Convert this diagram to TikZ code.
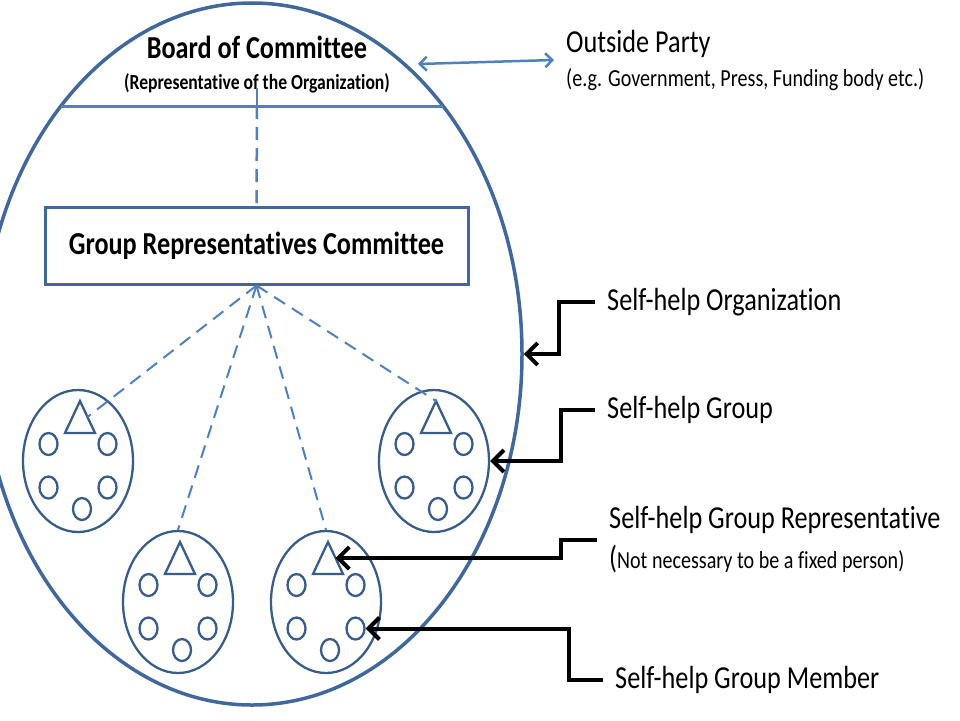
\documentclass[tikz,border=0pt]{standalone}
\usepackage{fontspec}
\setmainfont{Carlito}[FakeStretch=0.82, Ligatures=NoCommon]
\usetikzlibrary{shapes.geometric,arrows.meta}
\definecolor{orgblue}{HTML}{41689C}
\definecolor{liteblue}{HTML}{4F81BD}
\definecolor{grpblue}{HTML}{385D8A}
\begin{document}
\begin{tikzpicture}[x=1pt, y=-1pt, font=\fontsize{32}{40}\selectfont,
  org/.style={draw=orgblue, line width=3.5pt, ellipse, minimum width=540pt, minimum height=702pt, inner sep=0pt},
  grp/.style={draw=grpblue, line width=2.3pt, ellipse, minimum width=110pt, minimum height=142pt, inner sep=0pt},
  mem/.style={draw=grpblue, line width=2.3pt, ellipse, minimum width=18pt, minimum height=22pt, inner sep=0pt},
  tri/.style={draw=grpblue, line width=2.3pt, line join=miter},
  link/.style={draw=liteblue, line width=2pt, dash pattern=on 13pt off 8pt},
  callout/.style={draw=black, line width=4pt, -{Straight Barb[length=11pt,width=22pt]}},
  twoway/.style={draw=liteblue, line width=2.5pt, {Straight Barb[length=7pt,width=14pt]}-{Straight Barb[length=7pt,width=14pt]}},
  lbl/.style={anchor=west, inner sep=0pt, align=left}]
\useasboundingbox (0,0) rectangle (960,720);

% the organization
\node[org] (org) at (252,354) {};
\coordinate (bl) at (61,106);
\coordinate (bm) at (257,106);
\coordinate (br) at (443,106);
\draw[liteblue, line width=3pt] (bl) -- (br);
\node[align=center, inner sep=0pt, font=\bfseries\fontsize{32}{31}\selectfont] (board) at (257,65) {Board of Committee\\{\fontsize{21.5}{31}\selectfont (Representative of the Organization)}};
\node[draw=orgblue, line width=3pt, minimum width=423pt, minimum height=77pt, font=\bfseries\fontsize{32}{40}\selectfont] (gr) at (256.5,245.5) {Group Representatives Committee};
\draw[liteblue, line width=2.5pt] ([yshift=6pt]board.south) -- (bm);
\draw[link, line width=2.5pt] (bm) -- (gr.north);

% self-help groups
\foreach \g/\gx/\gy in {g1/78/461, g2/178/602, g3/326/602, g4/434/461} {
  \node[grp] (\g) at (\gx,\gy) {};
  \draw[tri] (\gx+2,\gy-60) coordinate (\g-top) -- coordinate[midway] (\g-rep) (\gx+17,\gy-28) -- (\gx-13,\gy-28) -- cycle;
  \foreach \m/\dx/\dy in {1/-29.5/-17, 2/29.5/-17, 3/-29.5/26.5, 4/29.5/26.5, 5/4/48}
    \node[mem] (\g-m\m) at (\gx+\dx,\gy+\dy) {};
}
\draw[link] (gr.south) -- (g1-rep);
\draw[link] (gr.south) -- (g2.north);
\draw[link] (gr.south) -- (g3.north);
\draw[link] (gr.south) -- (g4-top);

% outside party
\node[lbl, font=\fontsize{32}{34}\selectfont] (op) at (566,60) {Outside Party\\{\fontsize{24.5}{34}\selectfont (e.g. Government, Press, Funding body etc.)}};
\coordinate (opl) at (418,64);
\draw[twoway] (opl) -- ([xshift=-12pt]op.west);

% labels
\node[lbl] (l1) at (607,302) {Self-help Organization};
\node[lbl] (l2) at (607,410) {Self-help Group};
\node[lbl] (l3) at (609,540) {Self-help Group Representative\\({\fontsize{24.5}{40}\selectfont Not necessary to be a fixed person)}};
\node[lbl] (l4) at (615,680) {Self-help Group Member};
\draw[callout] ([xshift=-12pt]l1.west) -- ++(-36,0) |- (org.east);
\draw[callout] ([xshift=-12pt]l2.west) -- ++(-34,0) |- (g4.east);
\draw[callout] ([xshift=-12pt]l3.west) -- ++(-36,0) |- (g3-rep);
\draw[callout] ([xshift=-12pt]l4.west) -- ++(-34,0) |- (g3-m4.east);
\end{tikzpicture}
\end{document}
